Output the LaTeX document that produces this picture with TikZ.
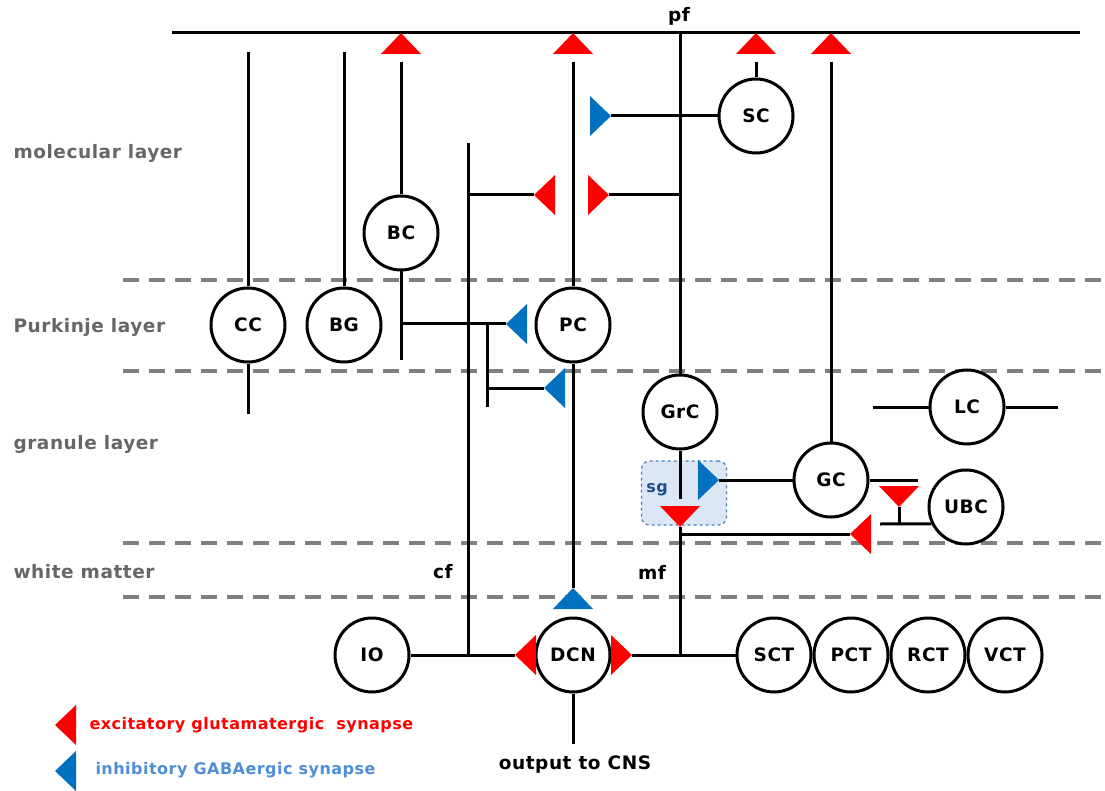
\documentclass[tikz,border=0pt]{standalone}
\usepackage{fontspec}
\newfontfamily\lbl{DejaVu Sans}[LetterSpace=3]
\usepackage{xcolor}
\definecolor{synred}{RGB}{255,0,0}
\definecolor{synblue}{RGB}{0,112,192}
\definecolor{laygray}{RGB}{102,102,102}
\definecolor{dashgray}{RGB}{128,128,128}
\definecolor{legblue}{RGB}{79,141,214}
\definecolor{sgfill}{RGB}{220,230,244}
\definecolor{sgline}{RGB}{74,126,187}
\definecolor{sgtext}{RGB}{31,78,140}
\usetikzlibrary{positioning}

\begin{document}
\begin{tikzpicture}[x=1pt, y=-1pt, line width=3pt,
  every node/.style={font=\lbl\bfseries\fontsize{18.5}{22}\selectfont},
  cell/.style={circle, draw, line width=3pt, minimum size=74pt, inner sep=0pt, fill=white},
  layer/.style={draw=dashgray, line width=4pt, dash pattern=on 16pt off 10pt},
  lay/.style={anchor=west, inner sep=0pt, text=laygray},
  leg/.style={anchor=west, inner sep=0pt, font=\lbl\bfseries\fontsize{16}{19}\selectfont},
  sgbox/.style={draw=sgline, dashed, line width=1.2pt, fill=sgfill, rounded corners=8pt, minimum width=85pt, minimum height=64pt},
  pics/syn/.style={code={\fill[#1] (0,0) -- (21,-20) -- (21,20) -- cycle; \coordinate (-tip) at (0,0);}}]
\path[use as bounding box, fill=white] (0,0) rectangle (1105,791);
% layer borders
\foreach \y in {280,371,543,597} \draw[layer] (123,\y) -- (1105,\y);
\node[lay] (ml) at (12,153) {molecular layer};
\node[lay] (pl) at (12,327) {Purkinje layer};
\node[lay] (gl) at (12,444) {granule layer};
\node[lay] (wm) at (12,572) {white matter};
% parallel fibres
\coordinate (pfL) at (172,33);
\coordinate (pfR) at (1080,33);
\coordinate (pfv) at (680,33);
\coordinate (atop) at (0,52);
\coordinate (dtop) at (0,62);
\draw (pfL) -- (pfR);
\node (pf) at (679,16) {pf};
% cells
\node[cell] (cc) at (248,325) {CC};
\node[cell] (bg) at (344,325) {BG};
\node[cell] (bc) at (401,233) {BC};
\node[cell] (pc) at (573,325) {PC};
\node[cell] (sc) at (756,116) {SC};
\node[cell] (grc) at (680,412) {GrC};
\node[cell] (gc) at (831,480) {GC};
\node[cell] (lc) at (967,407) {LC};
\node[cell] (ubc) at (966,507) {UBC};
\node[cell] (io) at (372,655) {IO};
\node[cell] (dcn) at (573,655) {DCN};
\node[cell] (sct) at (774,655) {SCT};
\node[cell, right=0pt of sct] (pct) {PCT};
\node[cell, right=0pt of pct] (rct) {RCT};
\node[cell, right=0pt of rct] (vct) {VCT};
% synapses on pf
\pic[rotate=-90] (s1) at (401,33) {syn=synred};
\pic[rotate=-90] (s2) at (573,33) {syn=synred};
\pic[rotate=-90] (s3) at (756,33) {syn=synred};
\pic[rotate=-90] (s4) at (831,33) {syn=synred};
\draw (cc |- atop) -- (cc.north) (cc.south) -- ++(0,50);
\draw (bg |- atop) -- (bg.north);
\draw (bc |- dtop) -- (bc.north) (bc.south) -- ++(0,88);
\draw (pc |- dtop) -- (pc.north);
\draw (sc |- dtop) -- (sc.north);
\draw (gc |- dtop) -- (gc.north);
% basket cell and stellate cell onto PC
\pic (s5) at (506,324) {syn=synblue};
\draw (bc |- s5-tip) -- (s5-tip);
\coordinate (br) at (487,324);
\pic (s7) at (544,388) {syn=synblue};
\draw (br) -- ++(0,83);
\draw (br |- s7-tip) -- (s7-tip);
\pic[rotate=180] (s8) at (611,116) {syn=synblue};
\draw (s8-tip) -- (sc.west);
% climbing fibre
\coordinate (cftop) at (468,143);
\draw (cftop) -- (cftop |- dcn);
\pic (s6) at (534,195) {syn=synred};
\draw (cftop |- s6-tip) -- (s6-tip);
\node (cf) at (443,572) {cf};
% granule cell axon
\pic[rotate=180] (s9) at (609,195) {syn=synred};
\draw (pfv) -- (grc.north);
\draw (s9-tip) -- (pfv |- s9-tip);
% PC onto DCN
\pic[rotate=-90] (s10) at (573,588) {syn=synblue};
\draw (pc.south) -- (s10-tip);
% glomerulus
\node[sgbox] (sg) at (684,493) {};
\node[text=sgtext, font=\lbl\bfseries\fontsize{16}{19}\selectfont] (sgl) at (657,490) {sg};
\draw (grc.south) -- ++(0,48);
\pic[rotate=90] (s11) at (680,527) {syn=synred};
\pic[rotate=180] (s13) at (719,480) {syn=synblue};
\draw (s13-tip) -- (gc.west);
\draw (gc.east) -- ++(48,0);
% mossy fibre
\draw (s11-tip) -- (s11-tip |- dcn);
\pic (s12) at (850,534) {syn=synred};
\draw (s11-tip |- s12-tip) -- (s12-tip);
\node (mf) at (652,572) {mf};
% UBC and LC
\pic[rotate=90] (s14) at (899,507) {syn=synred};
\coordinate (ubcin) at (880,524);
\draw (s14-tip) -- (s14-tip |- ubcin);
\draw (ubcin) -- (ubc.206);
\coordinate (lcL) at (873,407);
\coordinate (lcR) at (1058,407);
\draw (lcL) -- (lc.west) (lc.east) -- (lcR);
% nuclei
\pic (s15) at (515,655) {syn=synred};
\pic[rotate=180] (s16) at (632,655) {syn=synred};
\draw (io.east) -- (s15-tip);
\draw (s16-tip) -- (sct.west);
\draw (dcn.south) -- ++(0,50);
\node (cns) at (575,765) {output to CNS};
% legend
\pic (s17) at (55,725) {syn=synred};
\pic (s18) at (55,771) {syn=synblue};
\node[leg, text=synred] (lexc) at (88,725) {excitatory glutamatergic~ synapse};
\node[leg, text=legblue] (linh) at (94,770) {inhibitory GABAergic synapse};
\end{tikzpicture}
\end{document}
